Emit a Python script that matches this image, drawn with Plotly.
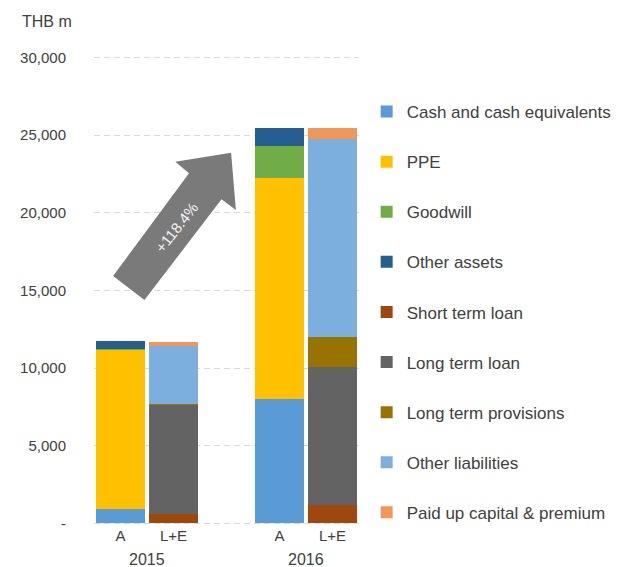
import plotly.graph_objects as go

# ---- data ----
years = ["2015", "2016"]
sides = ["A", "L+E"]
x_cats = ["2015 A", "2015 L+E", "gap", "2016 A", "2016 L+E"]
tick_labels = ["A", "L+E", "", "A", "L+E"]

series_names = [
    "Cash and cash equivalents", "PPE", "Goodwill", "Other assets",
    "Short term loan", "Long term loan", "Long term provisions",
    "Other liabilities", "Paid up capital & premium",
]
series_side = ["A", "A", "A", "A", "L+E", "L+E", "L+E", "L+E", "L+E"]
cash = [900, 8040]
ppe = [10280, 14200]
goodwill = [60, 2080]
other_assets = [520, 1160]
short_term_loan = [580, 1160]
long_term_loan = [7070, 8920]
long_term_provisions = [60, 1910]
other_liabilities = [3720, 12750]
paid_up_capital = [240, 750]
series_values = [cash, ppe, goodwill, other_assets, short_term_loan,
                 long_term_loan, long_term_provisions, other_liabilities,
                 paid_up_capital]
colors = ["#5B9BD5", "#FFC000", "#70AD47", "#255E91", "#9E480E",
          "#636363", "#997300", "#7CAFDD", "#F1975A"]

y_tickvals = [0, 5000, 10000, 15000, 20000, 25000, 30000]
y_ticktext = ["-", "5,000", "10,000", "15,000", "20,000", "25,000", "30,000"]
y_range = [-100, 30100]
growth_label = "+118.4%"
unit_label = "THB m"

FONT = "Liberation Sans, Arial, sans-serif"
TXT = "#404040"
OFF = 8                       # page body margin of the html page
W, H = 629 - OFF, 567 - OFF   # figure size so the page fits the window

fig = go.Figure()
for name, side, vals, col in zip(series_names, series_side, series_values, colors):
    xs = [f"{y} {side}" for y in years]
    fig.add_trace(go.Bar(
        x=xs, y=vals, name=name, marker_color=col, marker_line_width=0,
        legendgroup=name,
    ))

# plot-area edges in window pixels; helpers convert window px -> paper
L, R, T, B = 90, 367, 56, 525
def px(xp):
    return (xp - L) / (R - L)
def py(yp):
    return (B - yp) / (B - T)

arrow_pts = [(233.3, 152.7), (238.3, 210), (223.3, 199.3), (142.7, 300),
             (110, 276), (189.3, 173.3), (175, 161.7)]
path = "M " + " L ".join(f"{px(a):.4f},{py(b):.4f}" for a, b in arrow_pts) + " Z"
fig.add_shape(type="path", path=path, xref="paper", yref="paper",
              fillcolor="#7a7a7a", line=dict(width=0), layer="above")

fig.add_annotation(text=growth_label, xref="paper", yref="paper",
                   x=px(176), y=py(227), xanchor="center", yanchor="middle",
                   showarrow=False, textangle=-51.6,
                   font=dict(family=FONT, size=15, color="#f2f2f2"))
fig.add_annotation(text=unit_label, xref="paper", yref="paper",
                   x=px(13), y=py(22), xanchor="left", yanchor="middle",
                   showarrow=False, font=dict(family=FONT, size=16, color=TXT))
for i, yr in enumerate(years):
    fig.add_annotation(text=yr, xref="x", yref="paper", x=i * 3 + 0.5,
                       y=py(559), yanchor="middle", showarrow=False,
                       font=dict(family=FONT, size=16, color=TXT))

fig.update_layout(
    width=W, height=H,
    margin=dict(l=L - OFF, r=W - (R - OFF), t=T - OFF, b=H - (B - OFF), pad=0),
    barmode="stack", bargap=0.06,
    plot_bgcolor="white", paper_bgcolor="white",
    font=dict(family=FONT, size=15, color=TXT),
    showlegend=True,
    legend=dict(x=px(375), xanchor="left", y=py(94), yanchor="top",
                traceorder="grouped", tracegroupgap=25,
                font=dict(family=FONT, size=17, color=TXT),
                bgcolor="rgba(0,0,0,0)"),
    xaxis=dict(type="category", categoryorder="array", categoryarray=x_cats,
               tickvals=x_cats, ticktext=tick_labels, range=[-0.5, 4.5],
               showgrid=False, showline=False, zeroline=False, ticks="",
               tickfont=dict(family=FONT, size=15, color=TXT)),
    yaxis=dict(range=y_range, tickvals=y_tickvals, ticktext=y_ticktext,
               showgrid=True, gridcolor="#d9d9d9", griddash="6px,4px", gridwidth=1,
               zeroline=False, showline=False, ticks="",
               ticklabelstandoff=27,
               tickfont=dict(family=FONT, size=15, color=TXT)),
)

fig.write_html("out.html")
